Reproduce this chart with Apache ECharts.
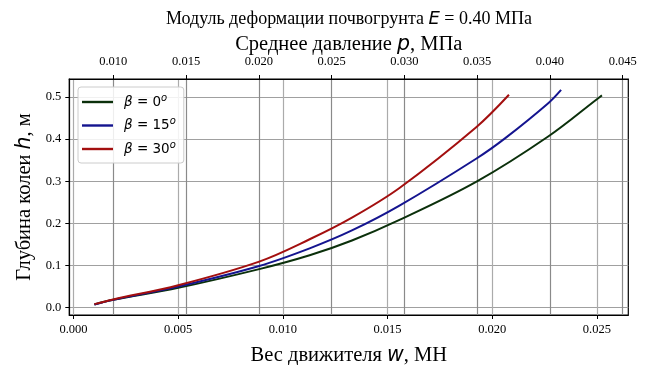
<!DOCTYPE html>
<html>
<head>
<meta charset="utf-8">
<script src="https://cdn.jsdelivr.net/npm/echarts@6/dist/echarts.min.js"></script>
<style>
  html, body { margin: 0; padding: 0; background: #fff; }
  #chart { width: 649px; height: 365px; }
</style>
</head>
<body>
<div id="chart"></div>
<script>
// Track depth h (m) against vehicle weight w (MN) for three angles β
const wBeta0  = [0.001, 0.0019, 0.005, 0.00887, 0.01128, 0.0133, 0.01557, 0.01925, 0.02269, 0.0250, 0.02524];
const hBeta0  = [0.007, 0.018, 0.0465, 0.091, 0.124, 0.159, 0.208, 0.299, 0.407, 0.495, 0.504];
const wBeta15 = [0.001, 0.0019, 0.005, 0.00887, 0.01128, 0.0133, 0.01557, 0.01925, 0.02064, 0.02269, 0.02329];
const hBeta15 = [0.007, 0.018, 0.0497, 0.0986, 0.1405, 0.183, 0.242, 0.354, 0.403, 0.486, 0.517];
const wBeta30 = [0.001, 0.0019, 0.005, 0.00887, 0.01128, 0.0133, 0.01557, 0.01925, 0.0208];
const hBeta30 = [0.0078, 0.019, 0.0529, 0.109, 0.162, 0.2135, 0.284, 0.429, 0.5055];

const seriesNames = ['β = 0°', 'β = 15°', 'β = 30°'];
const seriesAngles = ['0', '15', '30'];
const seriesColors = ['#0b300b', '#14148f', '#a30f0f'];

// Axis tick values
const weightTicks = [0.000, 0.005, 0.010, 0.015, 0.020, 0.025];
const depthTicks = [0.0, 0.1, 0.2, 0.3, 0.4, 0.5];
const pressureTicks = [0.010, 0.015, 0.020, 0.025, 0.030, 0.035, 0.040, 0.045];

const SERIF = 'Liberation Serif';
const MATH = 'DejaVu Sans';

function pairs(ws, hs) { return ws.map((w, i) => [w, hs[i]]); }
const curves = [pairs(wBeta0, hBeta0), pairs(wBeta15, hBeta15), pairs(wBeta30, hBeta30)];

const chart = echarts.init(document.getElementById('chart'), null, { renderer: 'canvas' });

const series = curves.map((d, i) => ({
  name: seriesNames[i],
  type: 'line',
  xAxisIndex: 0,
  yAxisIndex: 0,
  data: d,
  smooth: 0.35,
  showSymbol: false,
  symbol: 'none',
  lineStyle: { color: seriesColors[i], width: 2 },
  itemStyle: { color: seriesColors[i] },
  z: 5
}));

// empty series bound to the pressure axis so its scale is active
series.push({ type: 'line', xAxisIndex: 1, yAxisIndex: 0, data: [], silent: true });

function richText(a, i, b, size) {
  return {
    text: '{a|' + a + '}{i|' + i + '}{a|' + b + '}',
    rich: {
      a: { fontFamily: SERIF, fontSize: size, color: '#000', fontWeight: 'normal' },
      i: { fontFamily: MATH, fontStyle: 'italic', fontSize: size, color: '#000', fontWeight: 'normal' }
    }
  };
}

const nameBottom = richText('Вес движителя ', 'w', ', МН', 20.5);
const nameTop = richText('Среднее давление ', 'p', ', МПа', 20.5);
const nameLeft = richText('Глубина колеи ', 'h', ', м', 20.5);
const titleText = richText('Модуль деформации почвогрунта ', 'E', ' = 0.40 МПа', 18);

const option = {
  animation: false,
  backgroundColor: '#fff',
  title: {
    text: titleText.text,
    left: 344,
    top: 5,
    textAlign: 'center',
    textStyle: { fontWeight: 'normal', rich: titleText.rich }
  },
  grid: {
    left: 69.3, right: 20.7, top: 79, bottom: 50,
    containLabel: false,
    outerBoundsMode: 'none',
    show: true, borderColor: '#000', borderWidth: 1.2, backgroundColor: 'transparent'
  },
  legend: {
    left: 78, top: 87,
    orient: 'vertical',
    itemWidth: 31, itemHeight: 2.4,
    itemGap: 7.5,
    padding: [6, 8, 7, 4],
    backgroundColor: 'rgba(255,255,255,0.85)',
    borderColor: '#cccccc', borderWidth: 1, borderRadius: 3,
    icon: 'rect',
    data: seriesNames,
    formatter: name => {
      const k = seriesNames.indexOf(name);
      return '{b|β}{t| = ' + seriesAngles[k] + '}{s|o}';
    },
    textStyle: {
      padding: [0, 0, 0, 6],
      rich: {
        b: { fontFamily: MATH, fontStyle: 'italic', fontSize: 13.5, color: '#000' },
        t: { fontFamily: MATH, fontSize: 13.5, color: '#000' },
        s: { fontFamily: MATH, fontStyle: 'italic', fontSize: 10, color: '#000', verticalAlign: 'top', padding: [0, 0, 8, 0] }
      }
    }
  },
  xAxis: [
    {
      type: 'value',
      position: 'bottom',
      min: -0.0002, max: 0.0265,
      name: nameBottom.text,
      nameLocation: 'middle',
      nameGap: 30,
      nameMoveOverlap: false,
      nameTextStyle: { rich: nameBottom.rich },
      axisLine: { show: true, onZero: false, lineStyle: { color: '#000', width: 1.2 } },
      axisTick: { show: true, length: 4, customValues: weightTicks, lineStyle: { color: '#000', width: 1 } },
      axisLabel: {
        customValues: weightTicks,
        formatter: v => v.toFixed(3),
        fontFamily: SERIF, fontSize: 12.5, color: '#000', margin: 8
      },
      splitLine: { show: true, lineStyle: { color: '#ababab', width: 1.2 } }
    },
    {
      type: 'value',
      position: 'top',
      min: 0.006977, max: 0.045385,
      name: nameTop.text,
      nameLocation: 'middle',
      nameGap: 24,
      nameMoveOverlap: false,
      nameTextStyle: { rich: nameTop.rich },
      axisLine: { show: true, onZero: false, lineStyle: { color: '#000', width: 1.2 } },
      axisTick: { show: true, length: 4, customValues: pressureTicks, lineStyle: { color: '#000', width: 1 } },
      axisLabel: {
        customValues: pressureTicks,
        formatter: v => v.toFixed(3),
        fontFamily: SERIF, fontSize: 12.5, color: '#000', margin: 11
      },
      splitLine: { show: true, lineStyle: { color: '#8a8a8a', width: 1.2 } }
    }
  ],
  yAxis: [
    {
      type: 'value',
      min: -0.018, max: 0.543,
      name: nameLeft.text,
      nameLocation: 'middle',
      nameGap: 34,
      nameMoveOverlap: false,
      nameRotate: 90,
      nameTextStyle: { rich: nameLeft.rich },
      axisLine: { show: true, onZero: false, lineStyle: { color: '#000', width: 1.2 } },
      axisTick: { show: true, length: 4, customValues: depthTicks, lineStyle: { color: '#000', width: 1 } },
      axisLabel: {
        customValues: depthTicks,
        formatter: v => v.toFixed(1),
        fontFamily: SERIF, fontSize: 12.5, color: '#000', margin: 8
      },
      splitLine: { show: true, lineStyle: { color: '#a0a0a0', width: 1.2 } }
    }
  ],
  series: series
};

chart.setOption(option);
</script>
</body>
</html>
